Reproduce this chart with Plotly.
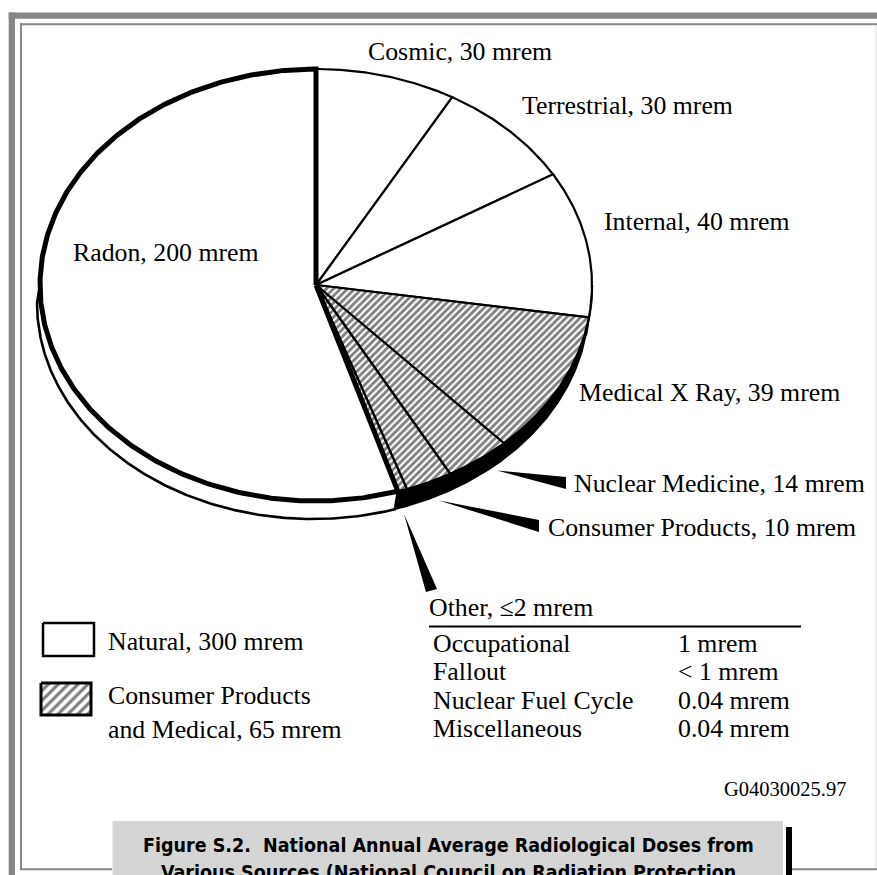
import numpy as np
import plotly.graph_objects as go

# ---------------- data ----------------
categories = ["Cosmic", "Terrestrial", "Internal", "Medical X Ray",
              "Nuclear Medicine", "Consumer Products", "Other", "Radon"]
doses = [30, 30, 40, 39, 14, 10, 2, 200]
source_group = ["Natural", "Natural", "Natural", "Medical",
                "Medical", "Medical", "Medical", "Natural"]
slice_labels = ["Cosmic, 30 mrem", "Terrestrial, 30 mrem", "Internal, 40 mrem",
                "Medical X Ray, 39 mrem", "Nuclear Medicine, 14 mrem",
                "Consumer Products, 10 mrem", "Other, \u22642 mrem", "Radon, 200 mrem"]
legend_labels = ["Natural, 300 mrem", "Consumer Products<br>and Medical, 65 mrem"]
other_sources = ["Occupational", "Fallout", "Nuclear Fuel Cycle", "Miscellaneous"]
other_doses = ["1 mrem", "< 1 mrem", "0.04 mrem", "0.04 mrem"]
figure_id = "G04030025.97"
caption_lines = ["Figure S.2.\u00a0\u00a0National Annual Average Radiological Doses from",
                 "Various Sources (National Council on Radiation Protection"]

# ---------------- layout / style ----------------
W, H = 877, 875
CX, CY, RX, RY = 316, 285, 276, 216
DEPTH, SHIFT_X = 18, -3
SERIF = "Liberation Serif, Times New Roman, serif"
SANS = "Liberation Sans Narrow, DejaVu Sans Condensed, Arial Narrow, sans-serif"
FS = 25.8
GRAY = "#878787"
HATCH = dict(shape="/", size=5, solidity=0.58, fgcolor="black", bgcolor="white")

label_pos = {  # (x_left, y_center)
    "Cosmic": (366, 51), "Terrestrial": (520, 105), "Internal": (602, 221),
    "Medical X Ray": (577, 392), "Nuclear Medicine": (572, 483),
    "Consumer Products": (546, 527), "Other": (427, 607), "Radon": (71, 252),
}


def ellipse_pt(theta_deg, dy=0.0, dx=0.0):
    t = np.radians(theta_deg)
    return CX + dx + RX * np.sin(t), CY - RY * np.cos(t) + dy


fig = go.Figure()

total = sum(doses)
bounds = np.concatenate([[0], np.cumsum(doses)]) / total * 360.0

# side bands (visible lower half: 90..270 deg)
for i, cat in enumerate(categories):
    a0, a1 = max(bounds[i], 90), min(bounds[i + 1], 270)
    if a1 <= a0:
        continue
    th = np.linspace(a0, a1, max(3, int((a1 - a0) * 2)))
    xt, yt = ellipse_pt(th)
    xb, yb = ellipse_pt(th[::-1], DEPTH, SHIFT_X)
    med = source_group[i] == "Medical"
    fig.add_trace(go.Scatter(
        x=np.concatenate([xt, xb, xt[:1]]), y=np.concatenate([yt, yb, yt[:1]]),
        mode="lines", fill="toself",
        fillcolor="black" if med else "white",
        line=dict(color="black", width=1.5 if med else 2.6),
        hoverinfo="skip", showlegend=False))


def slice_trace(i, width):
    th = np.linspace(bounds[i], bounds[i + 1], max(3, int((bounds[i + 1] - bounds[i]) * 2)))
    xs, ys = ellipse_pt(th)
    x = np.concatenate([[CX], xs, [CX]])
    y = np.concatenate([[CY], ys, [CY]])
    med = source_group[i] == "Medical"
    kw = dict(fillpattern=HATCH) if med else dict(fillcolor="white")
    return go.Scatter(x=x, y=y, mode="lines", fill="toself",
                      line=dict(color="black", width=width),
                      hoverinfo="skip", showlegend=False, name=categories[i], **kw)


for i, cat in enumerate(categories):
    if cat != "Radon":
        fig.add_trace(slice_trace(i, 2.2))
fig.add_trace(slice_trace(categories.index("Radon"), 5))

# ---------------- labels ----------------
ann = []
for cat, lab in zip(categories, slice_labels):
    x, y = label_pos[cat]
    ann.append(dict(x=x, y=y, text=lab, xanchor="left", yanchor="middle",
                    font=dict(family=SERIF, size=FS, color="black")))

row_y = [643, 671, 700, 728]
for src, dose, y in zip(other_sources, other_doses, row_y):
    ann.append(dict(x=431, y=y, text=src, xanchor="left", yanchor="middle",
                    font=dict(family=SERIF, size=FS, color="black")))
    ann.append(dict(x=676, y=y, text=dose, xanchor="left", yanchor="middle",
                    font=dict(family=SERIF, size=FS, color="black")))

ann.append(dict(x=106, y=641, text=legend_labels[0], xanchor="left", yanchor="middle",
                font=dict(family=SERIF, size=FS, color="black")))
ann.append(dict(x=106, y=712, text=legend_labels[1], xanchor="left", yanchor="middle",
                align="left", font=dict(family=SERIF, size=FS, color="black")))
ann.append(dict(x=848, y=789, text=figure_id, xanchor="right", yanchor="middle",
                font=dict(family=SERIF, size=20.5, color="black")))
for j, line in enumerate(caption_lines):
    ann.append(dict(x=448, y=845 + 27 * j, text="<b>" + line + "</b>",
                    xanchor="center", yanchor="middle",
                    font=dict(family=SANS, size=19.5, color="black")))
for a in ann:
    a.update(xref="x", yref="y", showarrow=False)

# legend boxes
fig.add_trace(go.Scatter(x=[43, 94, 94, 43, 43], y=[623, 623, 656, 656, 623], mode="lines",
                         fill="toself", fillcolor="white", line=dict(color="black", width=2.5),
                         hoverinfo="skip", showlegend=False))
fig.add_trace(go.Scatter(x=[41, 91, 91, 41, 41], y=[683, 683, 715, 715, 683], mode="lines",
                         fill="toself", fillpattern=dict(shape="/", size=7, solidity=0.45,
                                                         fgcolor="black", bgcolor="white"),
                         line=dict(color="black", width=3),
                         hoverinfo="skip", showlegend=False))

shapes = []
# frame
shapes += [
    dict(type="rect", x0=8.7, x1=W + 5, y0=12.5, y1=18.7, fillcolor=GRAY, line_width=0),
    dict(type="rect", x0=8.7, x1=15, y0=12.5, y1=H + 5, fillcolor=GRAY, line_width=0),
    dict(type="rect", x0=20, x1=W + 5, y0=23.3, y1=25.3, fillcolor=GRAY, line_width=0),
    dict(type="rect", x0=20, x1=22, y0=23.3, y1=870, fillcolor=GRAY, line_width=0),
    dict(type="rect", x0=20, x1=112, y0=868.3, y1=870.3, fillcolor=GRAY, line_width=0),
    dict(type="rect", x0=790, x1=W + 5, y0=868.3, y1=870.3, fillcolor=GRAY, line_width=0),
    dict(type="line", x0=876, x1=876, y0=25, y1=868, line=dict(color="#dddddd", width=1)),
    # caption box
    dict(type="rect", x0=112.5, x1=783, y0=821, y1=H + 5, fillcolor="#d5d5d5", line_width=0),
    dict(type="rect", x0=786, x1=792, y0=827, y1=H + 5, fillcolor="black", line_width=0),
    # table rule
    dict(type="line", x0=429, x1=801, y0=626.5, y1=626.5, line=dict(color="black", width=2.2)),
]
# leader wedges
wedges = [
    "M 497 470.5 L 566 477 L 566 489 Z",
    "M 439 500.5 L 539 520 L 539 532 Z",
    "M 404 514 L 426 592 L 437 589 Z",
]
for p in wedges:
    shapes.append(dict(type="path", path=p, fillcolor="black", line_width=0))
for s in shapes:
    s.update(xref="x", yref="y", layer="above" if s.get("type") == "path" else "below")

fig.update_layout(
    width=W, height=H, margin=dict(l=0, r=0, t=0, b=0),
    paper_bgcolor="white", plot_bgcolor="white",
    xaxis=dict(range=[0, W], visible=False, fixedrange=True),
    yaxis=dict(range=[H, 0], visible=False, fixedrange=True),
    annotations=ann, shapes=shapes, showlegend=False,
)
fig.write_html("out.html", config={"displayModeBar": False},
               post_script="document.body.style.margin='0';document.body.style.overflow='hidden';")
